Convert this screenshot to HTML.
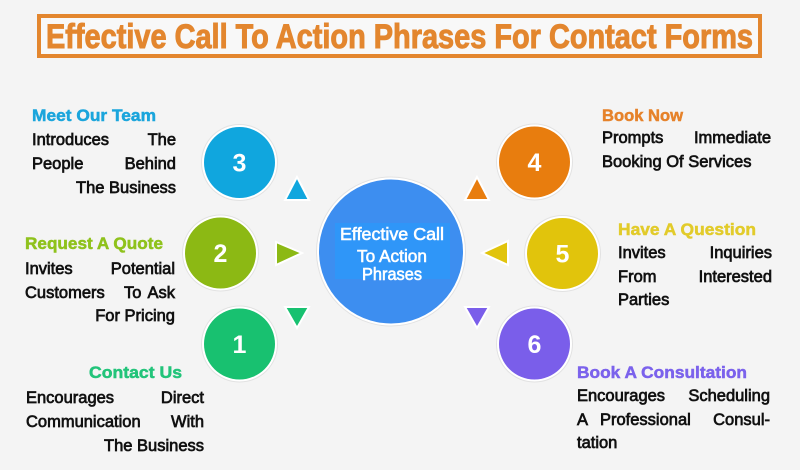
<!DOCTYPE html>
<html>
<head>
<meta charset="utf-8">
<style>
  html,body{margin:0;padding:0;background:#f4f4f4;}
  svg{display:block;}
  .h{font-family:"Liberation Sans",sans-serif;font-weight:bold;font-size:17px;stroke-width:0.5;}
  .b{font-family:"Liberation Sans",sans-serif;font-size:16.5px;fill:#111;stroke:#111;stroke-width:0.7;}
  .n{font-family:"Liberation Sans",sans-serif;font-weight:bold;font-size:25px;fill:#fff;}
  .c{font-family:"Liberation Sans",sans-serif;font-size:17.5px;fill:#fff;stroke:#fff;stroke-width:0.6;}
</style>
</head>
<body>
<svg width="800" height="470" viewBox="0 0 800 470" xmlns="http://www.w3.org/2000/svg">
  <rect width="800" height="470" fill="#f4f4f4"/>

  <!-- Title -->
  <rect x="39" y="16" width="721" height="40" fill="#f8f8f8" stroke="#e3862e" stroke-width="4"/>
  <text x="46" y="48" font-family="Liberation Sans, sans-serif" font-weight="bold" font-size="34" fill="#e3862e" stroke="#e3862e" stroke-width="1" textLength="707" lengthAdjust="spacingAndGlyphs">Effective Call To Action Phrases For Contact Forms</text>

  <!-- Center circle -->
  <circle cx="391" cy="251.5" r="75" fill="#e2e2e2"/>
  <circle cx="391" cy="251.5" r="74" fill="#ffffff"/>
  <circle cx="391" cy="251.5" r="72" fill="#3d8ef0"/>
  <rect x="335" y="223" width="115" height="56" fill="#2f96f8"/>
  <text class="c" x="340" y="240" textLength="104" lengthAdjust="spacingAndGlyphs">Effective Call</text>
  <text class="c" x="357" y="262" textLength="70" lengthAdjust="spacingAndGlyphs">To Action</text>
  <text class="c" x="362" y="280" textLength="60" lengthAdjust="spacingAndGlyphs">Phrases</text>

  <!-- Numbered circles -->
  <g>
    <circle cx="239.5" cy="162.5" r="38.5" fill="#e2e2e2"/>
    <circle cx="239.5" cy="162.5" r="37.5" fill="#fff"/>
    <circle cx="239.5" cy="162.5" r="35.5" fill="#10a6de"/>
    <text class="n" x="239.5" y="171.5" text-anchor="middle">3</text>

    <circle cx="220.5" cy="253" r="38.5" fill="#e2e2e2"/>
    <circle cx="220.5" cy="253" r="37.5" fill="#fff"/>
    <circle cx="220.5" cy="253" r="35.5" fill="#8cb914"/>
    <text class="n" x="220.5" y="262" text-anchor="middle">2</text>

    <circle cx="239.5" cy="344" r="38.5" fill="#e2e2e2"/>
    <circle cx="239.5" cy="344" r="37.5" fill="#fff"/>
    <circle cx="239.5" cy="344" r="35.5" fill="#18c170"/>
    <text class="n" x="239.5" y="353" text-anchor="middle">1</text>

    <circle cx="534.5" cy="162" r="38.5" fill="#e2e2e2"/>
    <circle cx="534.5" cy="162" r="37.5" fill="#fff"/>
    <circle cx="534.5" cy="162" r="35.5" fill="#e87d0e"/>
    <text class="n" x="534.5" y="171" text-anchor="middle">4</text>

    <circle cx="562.5" cy="253.5" r="38.5" fill="#e2e2e2"/>
    <circle cx="562.5" cy="253.5" r="37.5" fill="#fff"/>
    <circle cx="562.5" cy="253.5" r="35.5" fill="#e1c40c"/>
    <text class="n" x="562.5" y="262.5" text-anchor="middle">5</text>

    <circle cx="534.5" cy="344" r="38.5" fill="#e2e2e2"/>
    <circle cx="534.5" cy="344" r="37.5" fill="#fff"/>
    <circle cx="534.5" cy="344" r="35.5" fill="#7a5eea"/>
    <text class="n" x="534.5" y="353" text-anchor="middle">6</text>
  </g>

  <!-- Triangles -->
  <g stroke="#ffffff" stroke-width="2" stroke-linejoin="miter">
    <polygon points="297,177 285,200 309,200" fill="#10a6de"/>
    <polygon points="302,253 276,242 276,265" fill="#8cb914"/>
    <polygon points="285,307 309,307 297,328" fill="#18c170"/>
    <polygon points="477,177 465,200 489,200" fill="#e87d0e"/>
    <polygon points="482,253 508,241 508,265" fill="#e1c40c"/>
    <polygon points="465,307 489,307 477,328" fill="#7a5eea"/>
  </g>

  <!-- Left block: Meet Our Team -->
  <text class="h" x="32" y="121" fill="#1aa5dc" stroke="#1aa5dc" textLength="124" lengthAdjust="spacingAndGlyphs">Meet Our Team</text>
  <text class="b" x="32" y="145">Introduces</text>
  <text class="b" x="176" y="145" text-anchor="end">The</text>
  <text class="b" x="32" y="169">People</text>
  <text class="b" x="176" y="169" text-anchor="end">Behind</text>
  <text class="b" x="176" y="193" text-anchor="end">The Business</text>

  <!-- Left block: Request A Quote -->
  <text class="h" x="25" y="249" fill="#8fc21c" stroke="#8fc21c" textLength="138" lengthAdjust="spacingAndGlyphs">Request A Quote</text>
  <text class="b" x="25" y="274">Invites</text>
  <text class="b" x="175" y="274" text-anchor="end">Potential</text>
  <text class="b" x="25" y="298">Customers</text>
  <text class="b" x="124" y="298">To</text>
  <text class="b" x="175" y="298" text-anchor="end">Ask</text>
  <text class="b" x="175" y="321" text-anchor="end">For Pricing</text>

  <!-- Left block: Contact Us -->
  <text class="h" x="89" y="378" fill="#22c47a" stroke="#22c47a" textLength="93" lengthAdjust="spacingAndGlyphs">Contact Us</text>
  <text class="b" x="26" y="403">Encourages</text>
  <text class="b" x="204" y="403" text-anchor="end">Direct</text>
  <text class="b" x="26" y="427">Communication</text>
  <text class="b" x="204" y="427" text-anchor="end">With</text>
  <text class="b" x="204" y="451" text-anchor="end">The Business</text>

  <!-- Right block: Book Now -->
  <text class="h" x="602" y="121" fill="#e6822a" stroke="#e6822a" textLength="81" lengthAdjust="spacingAndGlyphs">Book Now</text>
  <text class="b" x="602" y="143">Prompts</text>
  <text class="b" x="771" y="143" text-anchor="end">Immediate</text>
  <text class="b" x="602" y="167">Booking Of Services</text>

  <!-- Right block: Have A Question -->
  <text class="h" x="618" y="235" fill="#e2cb2a" stroke="#e2cb2a" textLength="138" lengthAdjust="spacingAndGlyphs">Have A Question</text>
  <text class="b" x="618" y="258">Invites</text>
  <text class="b" x="772" y="258" text-anchor="end">Inquiries</text>
  <text class="b" x="618" y="282">From</text>
  <text class="b" x="772" y="282" text-anchor="end">Interested</text>
  <text class="b" x="618" y="305">Parties</text>

  <!-- Right block: Book A Consultation -->
  <text class="h" x="577" y="378" fill="#7b62ec" stroke="#7b62ec" textLength="170" lengthAdjust="spacingAndGlyphs">Book A Consultation</text>
  <text class="b" x="577" y="401">Encourages</text>
  <text class="b" x="770" y="401" text-anchor="end">Scheduling</text>
  <text class="b" x="577" y="425">A</text>
  <text class="b" x="600" y="425">Professional</text>
  <text class="b" x="770" y="425" text-anchor="end">Consul-</text>
  <text class="b" x="577" y="448">tation</text>
</svg>
</body>
</html>
